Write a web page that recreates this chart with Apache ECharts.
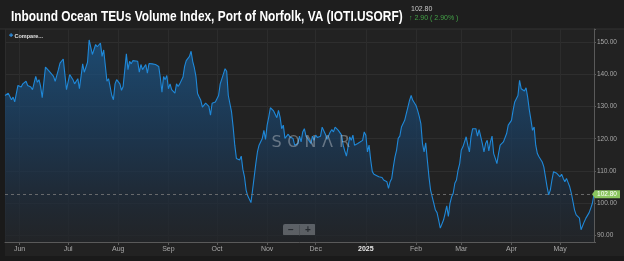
<!DOCTYPE html>
<html>
<head>
<meta charset="utf-8">
<script src="https://cdn.jsdelivr.net/npm/echarts@6/dist/echarts.min.js"></script>
<style>
html,body{margin:0;padding:0;background:#1c1c1c;}
#chart{width:624px;height:261px;}
</style>
</head>
<body>
<div id="chart"></div>
<script>
// ---- data ----
const chartTitle = 'Inbound Ocean TEUs Volume Index, Port of Norfolk, VA (IOTI.USORF)';
const lastValueText = '102.80';
const changeText = '↑ 2.90 ( 2.90% )';
const lastValue = 102.80;
const monthLabels = ['Jan','Feb','Mar','Apr','May','Jun','Jul','Aug','Sep','Oct','Nov','Dec'];
const yTickValues = [90, 100, 110, 120, 130, 140, 150];

const dates = [
 '2024-05-23','2024-05-24','2024-05-25','2024-05-27','2024-05-28','2024-05-29','2024-05-30','2024-05-31',
 '2024-06-01','2024-06-02','2024-06-03','2024-06-05','2024-06-06','2024-06-07','2024-06-08','2024-06-09','2024-06-11','2024-06-12','2024-06-13','2024-06-14','2024-06-15','2024-06-17','2024-06-18','2024-06-19','2024-06-20','2024-06-22','2024-06-23','2024-06-25','2024-06-26','2024-06-28','2024-06-29','2024-06-30',
 '2024-07-01','2024-07-02','2024-07-04','2024-07-05','2024-07-06','2024-07-07','2024-07-08','2024-07-09','2024-07-10','2024-07-11','2024-07-12','2024-07-13','2024-07-14','2024-07-16','2024-07-17','2024-07-18','2024-07-19','2024-07-21','2024-07-22','2024-07-23','2024-07-25','2024-07-26','2024-07-28','2024-07-29','2024-07-30','2024-07-31',
 '2024-08-02','2024-08-03','2024-08-04','2024-08-06','2024-08-07','2024-08-08','2024-08-09','2024-08-10','2024-08-11','2024-08-13','2024-08-14','2024-08-15','2024-08-16','2024-08-18','2024-08-19','2024-08-20','2024-08-21','2024-08-22','2024-08-24','2024-08-26','2024-08-27','2024-08-28','2024-08-29','2024-08-30','2024-08-31',
 '2024-09-01','2024-09-02','2024-09-03','2024-09-05','2024-09-06','2024-09-07','2024-09-08','2024-09-10','2024-09-11','2024-09-12','2024-09-13','2024-09-14','2024-09-15','2024-09-16','2024-09-17','2024-09-18','2024-09-19','2024-09-20','2024-09-21','2024-09-22','2024-09-23','2024-09-24','2024-09-26','2024-09-27','2024-09-28','2024-09-30',
 '2024-10-01','2024-10-02','2024-10-03','2024-10-05','2024-10-06','2024-10-07','2024-10-08','2024-10-10','2024-10-11','2024-10-12','2024-10-13','2024-10-15','2024-10-16','2024-10-17','2024-10-18','2024-10-19','2024-10-20','2024-10-22','2024-10-23','2024-10-24','2024-10-25','2024-10-26','2024-10-27','2024-10-29','2024-10-30','2024-10-31',
 '2024-11-01','2024-11-02','2024-11-03','2024-11-05','2024-11-06','2024-11-07','2024-11-08','2024-11-09','2024-11-10','2024-11-11','2024-11-12','2024-11-14','2024-11-15','2024-11-17','2024-11-18','2024-11-20','2024-11-21','2024-11-22','2024-11-23','2024-11-24','2024-11-25','2024-11-26','2024-11-28','2024-11-29','2024-11-30',
 '2024-12-01','2024-12-02','2024-12-04','2024-12-05','2024-12-06','2024-12-07','2024-12-08','2024-12-10','2024-12-11','2024-12-12','2024-12-13','2024-12-14','2024-12-15','2024-12-17','2024-12-18','2024-12-19','2024-12-20','2024-12-21','2024-12-22','2024-12-23','2024-12-24','2024-12-25','2024-12-26','2024-12-27','2024-12-28','2024-12-30','2024-12-31',
 '2025-01-01','2025-01-02','2025-01-03','2025-01-04','2025-01-05','2025-01-06','2025-01-07','2025-01-09','2025-01-10','2025-01-11','2025-01-12','2025-01-14','2025-01-15','2025-01-16','2025-01-17','2025-01-18','2025-01-19','2025-01-20','2025-01-21','2025-01-22','2025-01-23','2025-01-25','2025-01-26','2025-01-27','2025-01-28','2025-01-29','2025-01-30','2025-01-31',
 '2025-02-01','2025-02-02','2025-02-03','2025-02-04','2025-02-05','2025-02-06','2025-02-07','2025-02-08','2025-02-09','2025-02-10','2025-02-12','2025-02-13','2025-02-14','2025-02-15','2025-02-16','2025-02-17','2025-02-18','2025-02-19','2025-02-20','2025-02-21','2025-02-22','2025-02-23','2025-02-24','2025-02-25','2025-02-26','2025-02-27','2025-02-28',
 '2025-03-01','2025-03-02','2025-03-03','2025-03-04','2025-03-05','2025-03-06','2025-03-07','2025-03-08','2025-03-09','2025-03-10','2025-03-11','2025-03-12','2025-03-13','2025-03-14','2025-03-15','2025-03-16','2025-03-17','2025-03-18','2025-03-19','2025-03-20','2025-03-21','2025-03-22','2025-03-23','2025-03-24','2025-03-25','2025-03-26','2025-03-27','2025-03-28','2025-03-29','2025-03-30','2025-03-31',
 '2025-04-01','2025-04-02','2025-04-03','2025-04-04','2025-04-05','2025-04-06','2025-04-07','2025-04-08','2025-04-09','2025-04-10','2025-04-11','2025-04-12','2025-04-13','2025-04-14','2025-04-15','2025-04-16','2025-04-17','2025-04-18','2025-04-19','2025-04-20','2025-04-21','2025-04-22','2025-04-23','2025-04-24','2025-04-25','2025-04-26','2025-04-27','2025-04-28','2025-04-29','2025-04-30',
 '2025-05-01','2025-05-02','2025-05-03','2025-05-04','2025-05-05','2025-05-06','2025-05-07','2025-05-08','2025-05-09','2025-05-10','2025-05-11','2025-05-12','2025-05-13','2025-05-14','2025-05-15','2025-05-16','2025-05-17','2025-05-18','2025-05-19','2025-05-20','2025-05-21','2025-05-22'
];

const values = [
 133.4,132.9,134.1,132.1,132.9,131.4,132.0,136.5,
 137.0,136.0,137.0,137.8,136.5,136.8,136.0,135.2,139.3,137.5,138.3,136.2,132.7,142.2,142.7,141.1,140.6,139.3,137.8,141.4,143.4,144.7,145.2,135.2,
 135.5,139.9,138.3,137.0,137.2,138.6,135.5,135.0,143.2,140.6,140.3,143.7,150.6,146.1,146.5,149.2,148.5,149.6,145.5,147.5,137.8,138.6,133.4,132.1,137.0,138.3,
 137.0,135.0,136.2,146.3,141.4,144.0,143.2,144.2,143.7,144.0,140.6,143.0,141.4,143.0,140.3,143.3,143.7,143.2,143.0,142.4,138.9,134.4,139.3,138.3,139.6,
 135.5,137.0,135.2,134.1,137.0,136.2,137.0,139.1,142.4,144.2,144.7,145.5,147.1,144.0,142.0,139.3,134.0,132.9,131.9,129.8,129.3,131.0,130.0,127.3,131.0,131.4,
 132.4,133.4,137.0,140.1,141.7,140.9,133.4,128.3,123.6,118.0,113.9,113.4,114.6,110.5,108.2,104.1,102.3,100.2,104.1,108.2,112.3,115.9,118.0,120.1,122.6,119.8,
 124.2,126.7,129.6,128.6,129.0,126.5,128.8,126.7,123.1,124.2,120.1,121.4,120.6,120.1,118.0,118.5,120.8,119.0,122.1,123.1,120.8,120.1,118.5,120.8,119.5,
 121.1,120.4,120.8,123.6,123.4,121.4,119.8,122.1,122.8,122.1,123.6,123.9,122.6,121.1,118.0,116.2,114.6,117.5,120.6,119.5,121.1,118.0,117.5,118.5,118.0,119.5,122.1,
 121.1,115.9,118.0,113.4,109.8,109.0,108.4,108.2,107.7,108.0,107.2,106.7,104.6,106.7,107.7,111.3,114.4,116.5,120.1,120.8,123.6,125.7,127.8,129.8,131.9,133.4,131.9,131.9,
 130.3,128.8,126.9,124.7,118.5,115.9,118.7,113.4,108.2,104.1,100.0,97.9,97.1,94.8,92.3,92.8,94.8,96.9,99.2,95.9,100.0,102.0,103.1,106.2,107.2,110.3,112.3,
 116.5,117.5,118.0,120.6,118.0,115.9,120.6,123.1,122.6,123.1,120.8,122.8,123.1,118.5,115.9,118.5,119.5,116.2,119.0,120.8,115.4,113.9,112.3,115.4,118.0,118.0,119.0,118.5,121.6,124.2,124.2,
 125.7,128.8,131.4,131.4,133.4,138.1,135.5,136.0,134.8,135.8,132.9,129.0,125.9,122.6,123.6,118.0,115.4,114.4,114.9,112.8,111.3,108.2,105.1,102.6,104.1,107.2,109.8,110.3,109.3,109.0,
 108.2,109.0,107.7,106.7,107.7,106.4,105.1,103.1,100.5,97.9,96.4,96.9,95.4,91.8,92.3,94.3,95.4,95.4,97.1,98.5,100.0,102.8
];

// ---- chart ----
const seriesData = dates.map((d, i) => [d, values[i]]);
const chart = echarts.init(document.getElementById('chart'), null, {renderer: 'canvas'});
const FONT = '"Liberation Sans", Arial, sans-serif';

const option = {
  backgroundColor: '#222222',
  animation: false,
  textStyle: {fontFamily: FONT},
  title: [
    {text: lastValueText, left: 411, top: 6, padding: 0,
     textStyle: {color: '#c8c8c8', fontSize: 7, fontWeight: 'normal'}},
    {text: changeText, left: 409, top: 15, padding: 0,
     textStyle: {color: '#43a047', fontSize: 7, fontWeight: 'normal'}},
    {text: '{i|✚}{t| Compare...}', left: 9, top: 33, padding: 0,
     textStyle: {rich: {i: {color: '#2f8fe0', fontSize: 5}, t: {color: '#e0e0e0', fontSize: 5.5}}}},
    {text: '{a|S}{a|O}{a|N}{a|Λ}{a|R}', left: 268, top: 135, padding: 0, z: 10,
     textStyle: {rich: {a: {color: 'rgba(205,210,215,0.42)', fontSize: 16, width: 17, align: 'center', fontFamily: '"DejaVu Sans", sans-serif', fontWeight: 'normal'}}}}
  ],
  graphic: [
    {type: 'rect', left: 0, top: 0, shape: {width: 624, height: 29}, style: {fill: '#1e1e1e'}, z: -10, silent: true},
    {type: 'rect', left: 0, top: 29, shape: {width: 5, height: 232}, style: {fill: '#1a1a1a'}, z: -10, silent: true},
    {type: 'rect', left: 0, top: 256, shape: {width: 624, height: 5}, style: {fill: '#1a1a1a'}, z: -10, silent: true},
    {type: 'rect', left: 0, top: 28.5, shape: {width: 624, height: 1}, style: {fill: '#333'}, z: -9, silent: true},
    {type: 'text', x: 11, y: 10, scaleX: 0.85, scaleY: 1, z: 10, silent: true,
     style: {text: chartTitle, fill: '#ffffff', font: 'bold 14px "Liberation Sans", Arial, sans-serif', textVerticalAlign: 'top'}},
    {type: 'group', left: 283, top: 224, z: 20, children: [
      {type: 'rect', shape: {x: 0, y: 0, width: 33, height: 12, r: 2}, style: {fill: '#e4e4e4'}},
      {type: 'rect', shape: {x: 16, y: 1, width: 0.8, height: 10}, style: {fill: '#aaa'}},
      {type: 'text', style: {x: 8, y: 6, text: '−', fill: '#333', fontSize: 10, fontWeight: 'bold', align: 'center', verticalAlign: 'middle'}},
      {type: 'text', style: {x: 25, y: 6, text: '+', fill: '#333', fontSize: 10, fontWeight: 'bold', align: 'center', verticalAlign: 'middle'}}
    ]}
  ],
  grid: {left: 5, right: 30, top: 29, bottom: 19, show: false},
  xAxis: {
    type: 'time',
    min: dates[0],
    max: dates[dates.length - 1],
    splitNumber: 12,
    minInterval: 28 * 86400000,
    maxInterval: 31 * 86400000,
    axisLine: {show: true, lineStyle: {color: '#5a5a5a', width: 1}},
    axisTick: {show: true, length: 3, lineStyle: {color: '#5a5a5a'}},
    splitLine: {show: true, lineStyle: {color: '#2c2c2c', width: 1}},
    axisLabel: {
      color: '#a8a8a8', fontSize: 7, margin: 4,
      showMinLabel: false, showMaxLabel: false,
      formatter: function (val) {
        const d = new Date(val);
        if (d.getDate() !== 1) return '';
        const m = d.getMonth();
        if (m === 0) return '{y|' + d.getFullYear() + '}';
        return monthLabels[m];
      },
      rich: {y: {color: '#e8e8e8', fontWeight: 'bold', fontSize: 7}}
    }
  },
  yAxis: {
    type: 'value',
    position: 'right',
    min: 88,
    max: 154,
    splitNumber: 6,
    axisLine: {show: true, lineStyle: {color: '#5a5a5a', width: 1}},
    axisTick: {show: true, length: 2, lineStyle: {color: '#5a5a5a'}},
    splitLine: {show: true, showMinLine: false, showMaxLine: false, lineStyle: {color: '#2e2e2e', width: 1}},
    axisLabel: {
      color: '#a8a8a8', fontSize: 6.5, margin: 3,
      formatter: function (v) { return yTickValues.indexOf(v) >= 0 ? v.toFixed(2) : ''; }
    }
  },
  series: [{
    name: 'IOTI.USORF',
    type: 'line',
    data: seriesData,
    showSymbol: false,
    symbol: 'none',
    lineStyle: {color: '#1f88d8', width: 1.1},
    areaStyle: {
      color: new echarts.graphic.LinearGradient(0, 0, 0, 1, [
        {offset: 0, color: '#1b5b92'},
        {offset: 0.45, color: '#1a3f63'},
        {offset: 0.75, color: '#1e2e40'},
        {offset: 1, color: '#222529'}
      ])
    },
    markLine: {
      silent: true, symbol: 'none',
      label: {show: false},
      lineStyle: {color: '#7a7a7a', type: [3, 3], width: 0.8},
      data: [{yAxis: lastValue}]
    },
    markPoint: {
      silent: true,
      data: [{coord: [dates[dates.length - 1], lastValue]}],
      symbol: 'path://M0,4 L3,0 L28,0 L28,8 L3,8 Z',
      symbolSize: [28, 8],
      symbolKeepAspect: false,
      symbolOffset: [12, 0],
      itemStyle: {color: '#8bc65f'},
      label: {show: true, position: 'inside', offset: [1, 0], formatter: lastValueText, color: '#ffffff', fontSize: 6.5}
    }
  }]
};
chart.setOption(option);
</script>
</body>
</html>
